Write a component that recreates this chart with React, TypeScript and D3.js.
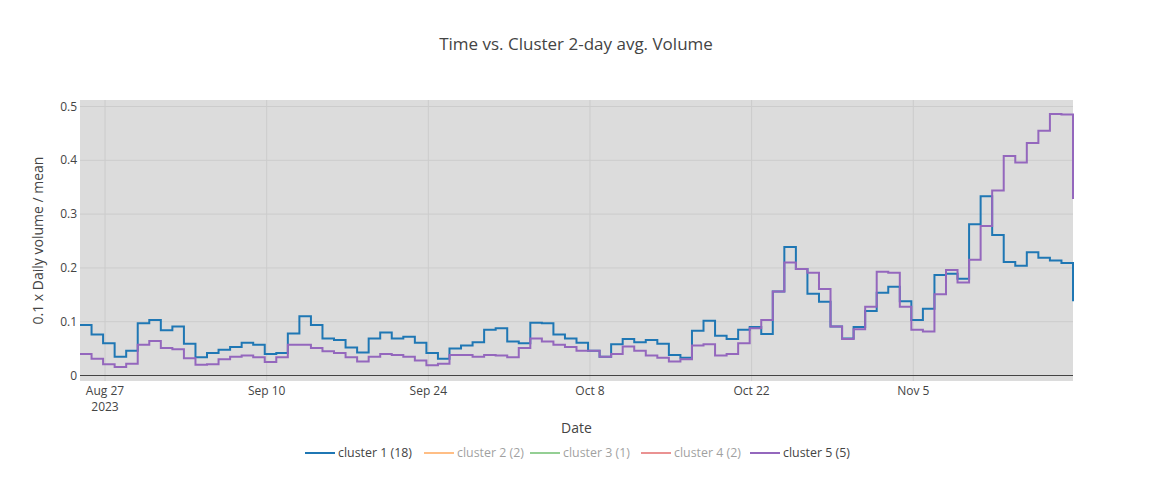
import React from 'react';
import * as d3 from 'd3';

// Daily points, 2-day avg. volume (0.1 x daily volume / mean)
const startDate = new Date(2023, 7, 24, 20);

const cluster1: number[] = [
  0.094, 0.076, 0.060, 0.035, 0.046, 0.097, 0.103, 0.084, 0.091, 0.059,
  0.034, 0.042, 0.048, 0.053, 0.061, 0.057, 0.040, 0.042, 0.078, 0.110,
  0.094, 0.069, 0.066, 0.052, 0.043, 0.069, 0.080, 0.069, 0.072, 0.061,
  0.042, 0.031, 0.050, 0.056, 0.062, 0.085, 0.088, 0.063, 0.060, 0.098,
  0.097, 0.076, 0.069, 0.061, 0.046, 0.035, 0.058, 0.068, 0.062, 0.066,
  0.059, 0.038, 0.033, 0.083, 0.102, 0.074, 0.068, 0.085, 0.090, 0.077,
  0.156, 0.239, 0.198, 0.152, 0.137, 0.091, 0.069, 0.090, 0.120, 0.154,
  0.165, 0.138, 0.103, 0.124, 0.187, 0.189, 0.180, 0.281, 0.333, 0.261,
  0.211, 0.204, 0.229, 0.219, 0.214, 0.209, 0.138,
];

const cluster5: number[] = [
  0.040, 0.031, 0.021, 0.016, 0.022, 0.057, 0.064, 0.051, 0.049, 0.032,
  0.020, 0.021, 0.030, 0.035, 0.037, 0.034, 0.025, 0.034, 0.057, 0.057,
  0.051, 0.045, 0.042, 0.034, 0.026, 0.035, 0.040, 0.038, 0.035, 0.028,
  0.019, 0.022, 0.038, 0.038, 0.035, 0.038, 0.037, 0.034, 0.051, 0.069,
  0.063, 0.057, 0.053, 0.046, 0.046, 0.035, 0.040, 0.054, 0.046, 0.037,
  0.033, 0.026, 0.030, 0.056, 0.058, 0.037, 0.040, 0.060, 0.088, 0.103,
  0.156, 0.210, 0.198, 0.191, 0.161, 0.091, 0.068, 0.086, 0.128, 0.193,
  0.191, 0.128, 0.085, 0.082, 0.151, 0.196, 0.173, 0.215, 0.278, 0.344,
  0.408, 0.396, 0.432, 0.455, 0.486, 0.485, 0.328,
];

const legendNames = ['cluster 1 (18)', 'cluster 2 (2)', 'cluster 3 (1)', 'cluster 4 (2)', 'cluster 5 (5)'];
const legendColors = ['#1f77b4', '#ff7f0e', '#2ca02c', '#d62728', '#9467bd'];
const legendVisible = [true, false, false, false, true];

const xTickDates = [
  new Date(2023, 7, 27), new Date(2023, 8, 10), new Date(2023, 8, 24),
  new Date(2023, 9, 8), new Date(2023, 9, 22), new Date(2023, 10, 5),
];
const yTicks = [0, 0.1, 0.2, 0.3, 0.4, 0.5];

const W = 1152;
const H = 480;
const margin = { top: 100, right: 79, bottom: 99, left: 80 };

const App = () => {
  const dates = cluster1.map((_, i) => d3.timeDay.offset(startDate, i));

  const x = d3.scaleTime()
    .domain([dates[0], dates[dates.length - 1]])
    .range([margin.left, W - margin.right]);

  const y = d3.scaleLinear()
    .domain([-0.0102, 0.5121])
    .range([H - margin.bottom, margin.top]);

  const line = d3.line<number>()
    .x((_, i) => x(dates[i]))
    .y(d => y(d))
    .curve(d3.curveStepAfter);

  const fmt = d3.timeFormat('%b %-d');
  const font = '"Open Sans", verdana, arial, sans-serif';
  const legendX = [305, 424, 530, 641, 750];

  return (
    <svg width={W} height={H} style={{ position: 'absolute', left: 0, top: 0, background: '#fff' }} fontFamily={font}>
      <text x={W / 2} y={50} textAnchor="middle" fontSize={17} fill="#444">
        Time vs. Cluster 2-day avg. Volume
      </text>

      <rect
        x={margin.left}
        y={margin.top}
        width={W - margin.left - margin.right}
        height={H - margin.top - margin.bottom}
        fill="#dcdcdc"
      />

      {/* grid */}
      {xTickDates.map((d, i) => (
        <line key={'gx' + i} x1={x(d)} x2={x(d)} y1={margin.top} y2={H - margin.bottom} stroke="#cccccc" strokeWidth={1} />
      ))}
      {yTicks.filter(t => t !== 0).map((t, i) => (
        <line key={'gy' + i} x1={margin.left} x2={W - margin.right} y1={y(t)} y2={y(t)} stroke="#cccccc" strokeWidth={1} />
      ))}
      <line x1={margin.left} x2={W - margin.right} y1={y(0)} y2={y(0)} stroke="#444" strokeWidth={1} />

      {/* series */}
      <path d={line(cluster1) || ''} fill="none" stroke="#1f77b4" strokeWidth={2} />
      <path d={line(cluster5) || ''} fill="none" stroke="#9467bd" strokeWidth={2} />

      {/* y ticks */}
      {yTicks.map((t, i) => (
        <text key={'ty' + i} x={margin.left - 3} y={y(t) + 4} textAnchor="end" fontSize={12} fill="#444">
          {t === 0 ? '0' : d3.format('.1f')(t)}
        </text>
      ))}

      {/* x ticks */}
      {xTickDates.map((d, i) => (
        <text key={'tx' + i} x={x(d)} y={395} textAnchor="middle" fontSize={12} fill="#444">
          {fmt(d)}
          {i === 0 && (
            <tspan x={x(d)} dy={16}>2023</tspan>
          )}
        </text>
      ))}

      <text x={(margin.left + W - margin.right) / 2} y={433} textAnchor="middle" fontSize={14} fill="#444">
        Date
      </text>
      <text
        transform={`translate(43,${(margin.top + H - margin.bottom) / 2}) rotate(-90)`}
        textAnchor="middle"
        fontSize={14}
        fill="#444"
      >
        0.1 x Daily volume / mean
      </text>

      {/* legend */}
      {legendNames.map((name, i) => (
        <g key={'lg' + i} opacity={legendVisible[i] ? 1 : 0.5}>
          <line x1={legendX[i]} x2={legendX[i] + 30} y1={453} y2={453} stroke={legendColors[i]} strokeWidth={2} />
          <text x={legendX[i] + 33} y={457} fontSize={12.4} fill="#444">{name}</text>
        </g>
      ))}
    </svg>
  );
};

export default App;
